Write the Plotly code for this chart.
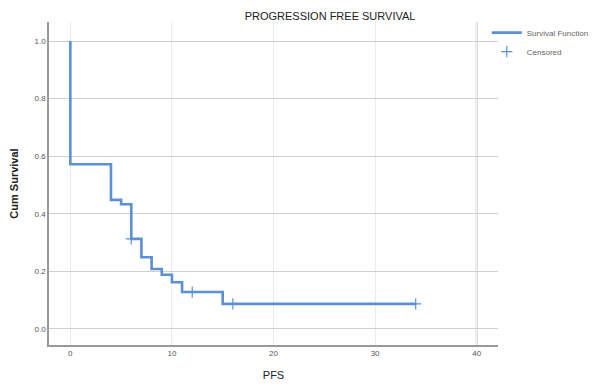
import plotly.graph_objects as go

# Kaplan-Meier step function
step_times = [0, 0, 4, 5, 6, 7, 8, 9, 10, 11, 15, 34]
step_surv = [1.0, 0.572, 0.448, 0.433, 0.3125, 0.249, 0.208, 0.188, 0.162, 0.128, 0.087, 0.087]

censor_times = [6, 12, 16, 34]
censor_surv = [0.3125, 0.128, 0.087, 0.087]

x_ticks = [0, 10, 20, 30, 40]
y_ticks = [0.0, 0.2, 0.4, 0.6, 0.8, 1.0]

line_color = "#5B8FD6"
font_family = "Liberation Sans, Arial, sans-serif"

fig = go.Figure()
fig.add_trace(go.Scatter(
    x=step_times, y=step_surv, mode="lines", line_shape="hv",
    line=dict(color=line_color, width=2.6), name="Survival Function",
))
fig.add_trace(go.Scatter(
    x=censor_times, y=censor_surv, mode="markers",
    marker=dict(symbol="cross-thin", size=8, line=dict(color=line_color, width=1.2)),
    name="Censored",
))

fig.add_shape(type="line", xref="x", yref="paper", x0=x_ticks[-1], x1=x_ticks[-1], y0=0, y1=1,
              line=dict(color="#cfcfcf", width=2), layer="below")

# the page body adds an 8px offset, so the figure is 592x379
fig.update_layout(
    width=592, height=379,
    margin=dict(l=41, r=102, t=14, b=42, autoexpand=False),
    paper_bgcolor="white", plot_bgcolor="white",
    font=dict(family=font_family, color="#333"),
    title=dict(text="PROGRESSION FREE SURVIVAL", x=0.544, xanchor="center", xref="container",
               y=0.979, yanchor="middle", yref="container",
               font=dict(size=11, color="#222", family=font_family)),
    showlegend=True,
    legend=dict(x=0.975, y=1.012, xanchor="left", yanchor="top",
                font=dict(size=8, color="#666"), bgcolor="rgba(0,0,0,0)",
                tracegroupgap=0, itemwidth=30),
    xaxis=dict(range=[-2.1, 42.1], tickvals=x_ticks, ticks="", showline=True,
               linecolor="#999", linewidth=1.5, showgrid=True, gridcolor="#ececec",
               zeroline=False, tickfont=dict(size=8, color="#555"),
               title=dict(text="PFS", font=dict(size=11, color="#222"), standoff=14)),
    yaxis=dict(range=[-0.056, 1.066], tickvals=y_ticks, tickformat=".1f", ticks="",
               showline=True, linecolor="#999", linewidth=1.5, showgrid=True,
               gridcolor="#cfcfcf", gridwidth=1.3, zeroline=False,
               tickfont=dict(size=8, color="#555"),
               title=dict(text="<b>Cum Survival</b>", font=dict(size=11, color="#222"), standoff=14)),
)

fig.write_html("out.html")
